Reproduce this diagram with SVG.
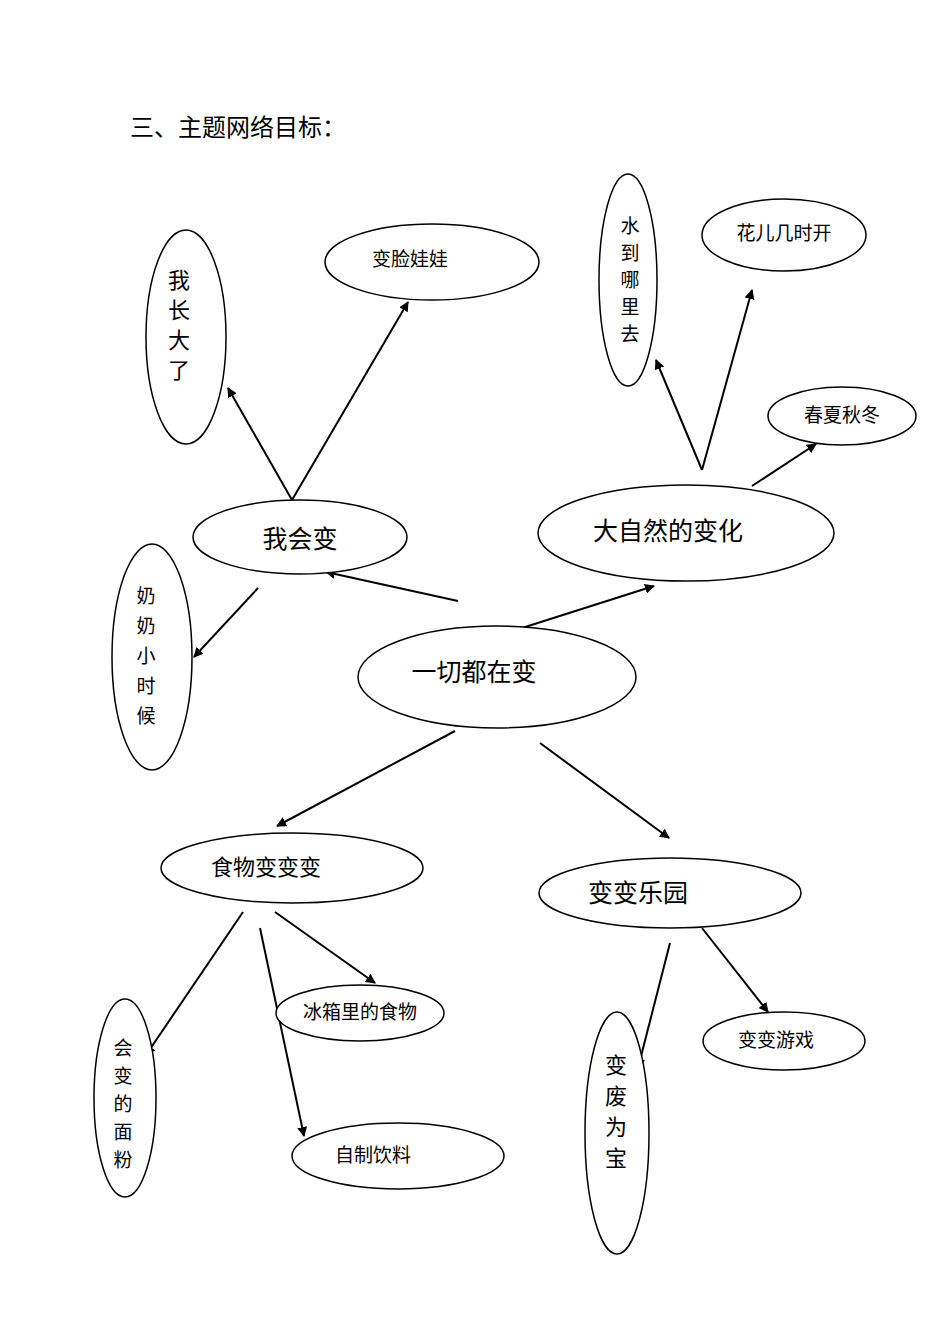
<svg xmlns="http://www.w3.org/2000/svg" width="950" height="1343" viewBox="0 0 950 1343">
<style>
ellipse{fill:#fff;stroke:#000;stroke-width:1.5}
text{font-family:"Liberation Serif","Noto Sans CJK SC",serif;fill:#000;text-anchor:middle}
.s{font-size:19px}.m{font-size:22px}.l{font-size:25px}
#c line{stroke:#000;stroke-width:2;marker-end:url(#a)}
</style>
<defs><marker id="a" markerWidth="10" markerHeight="10" refX="9" refY="5" orient="auto" markerUnits="userSpaceOnUse"><path d="M0,0 L10,5 L0,10 Z" fill="#000"/></marker></defs>
<rect width="950" height="1343" fill="#fff"/>
<text x="130" y="136" style="font-size:24px;text-anchor:start">三、主题网络目标：</text>
<g id="c">
<line x1="292" y1="500" x2="228" y2="388"/>
<line x1="292" y1="500" x2="408" y2="302"/>
<line x1="702" y1="470" x2="656" y2="360"/>
<line x1="702" y1="470" x2="752" y2="290"/>
<line x1="752" y1="486" x2="816" y2="444"/>
<line x1="458" y1="601" x2="326" y2="572"/>
<line x1="522" y1="628" x2="654" y2="586"/>
<line x1="258" y1="588" x2="194" y2="657"/>
<line x1="455" y1="731" x2="277" y2="826"/>
<line x1="540" y1="743" x2="669" y2="838"/>
<line x1="243" y1="912" x2="146" y2="1055"/>
<line x1="275" y1="912" x2="375" y2="983"/>
<line x1="260" y1="928" x2="304" y2="1136"/>
<line x1="670" y1="943" x2="638" y2="1068"/>
<line x1="702" y1="928" x2="768" y2="1012"/>
</g>
<g id="n1"><ellipse cx="186" cy="337" rx="40" ry="107"/><text class="m" x="179"><tspan x="179" y="288">我</tspan><tspan x="179" y="318">长</tspan><tspan x="179" y="348">大</tspan><tspan x="179" y="378">了</tspan></text></g>
<g id="n2"><ellipse cx="432" cy="262" rx="107" ry="38"/><text class="s" x="410" y="266">变脸娃娃</text></g>
<g id="n3"><ellipse cx="628" cy="280" rx="29" ry="106"/><text class="s"><tspan x="630" y="233">水</tspan><tspan x="630" y="260">到</tspan><tspan x="630" y="287">哪</tspan><tspan x="630" y="314">里</tspan><tspan x="630" y="341">去</tspan></text></g>
<g id="n4"><ellipse cx="784" cy="235" rx="82" ry="36"/><text class="s" x="784" y="240">花儿几时开</text></g>
<g id="n5"><ellipse cx="842" cy="416" rx="74" ry="29"/><text class="s" x="842" y="422">春夏秋冬</text></g>
<g id="n6"><ellipse cx="300" cy="537" rx="107" ry="37"/><text class="l" x="300" y="548">我会变</text></g>
<g id="n7"><ellipse cx="686" cy="533" rx="148" ry="48"/><text class="l" x="668" y="540">大自然的变化</text></g>
<g id="n8"><ellipse cx="152" cy="657" rx="40" ry="113"/><text class="s"><tspan x="146" y="603">奶</tspan><tspan x="146" y="633">奶</tspan><tspan x="146" y="663">小</tspan><tspan x="146" y="693">时</tspan><tspan x="146" y="723">候</tspan></text></g>
<g id="n9"><ellipse cx="497" cy="677" rx="139" ry="51"/><text class="l" x="474" y="681">一切都在变</text></g>
<g id="n10"><ellipse cx="292" cy="868" rx="131" ry="35"/><text class="m" x="266" y="875">食物变变变</text></g>
<g id="n11"><ellipse cx="670" cy="893" rx="131" ry="35"/><text class="l" x="638" y="902">变变乐园</text></g>
<g id="n12"><ellipse cx="360" cy="1013" rx="84" ry="28"/><text class="s" x="360" y="1019">冰箱里的食物</text></g>
<g id="n13"><ellipse cx="784" cy="1041" rx="81" ry="29"/><text class="s" x="776" y="1047">变变游戏</text></g>
<g id="n14"><ellipse cx="125" cy="1098" rx="31" ry="99"/><text class="s"><tspan x="123" y="1055">会</tspan><tspan x="123" y="1083">变</tspan><tspan x="123" y="1111">的</tspan><tspan x="123" y="1139">面</tspan><tspan x="123" y="1167">粉</tspan></text></g>
<g id="n15"><ellipse cx="398" cy="1156" rx="106" ry="33"/><text class="s" x="373" y="1162">自制饮料</text></g>
<g id="n16"><ellipse cx="617" cy="1133" rx="32" ry="121"/><text class="m"><tspan x="616" y="1073">变</tspan><tspan x="616" y="1104">废</tspan><tspan x="616" y="1135">为</tspan><tspan x="616" y="1166">宝</tspan></text></g>
</svg>
